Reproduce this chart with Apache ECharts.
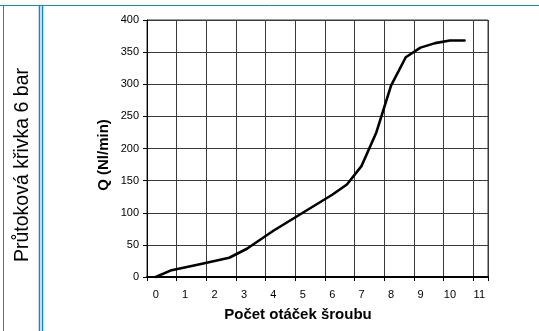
<!DOCTYPE html>
<html>
<head>
<meta charset="utf-8">
<script src="https://cdn.jsdelivr.net/npm/echarts@6/dist/echarts.min.js"></script>
<style>
  html, body { margin: 0; padding: 0; background: #fff; }
  #chart { width: 539px; height: 331px; }
</style>
</head>
<body>
<div id="chart"></div>
<script>
// Screw turns vs. flow rate at 6 bar
const turns = [0, 0.5, 1.5, 2.5, 3.1, 4, 5, 6, 6.5, 7, 7.5, 8, 8.5, 9, 9.5, 10, 10.5];
const flow  = [0, 10, 20, 30, 44, 72, 100, 128, 144, 173, 225, 298, 342, 357, 364, 368, 368];
const xTickLabels = [0, 1, 2, 3, 4, 5, 6, 7, 8, 9, 10, 11];

const sideTitle = 'Průtoková křivka 6 bar';
const yName = 'Q (Nl/min)';
const xName = 'Počet otáček šroubu';

const FONT = '"Liberation Sans", Arial, Helvetica, sans-serif';
const BLUE = '#1185cf';
const GRID = '#3a3a3a';

const chart = echarts.init(document.getElementById('chart'), null, { renderer: 'canvas' });

chart.setOption({
  animation: false,
  backgroundColor: '#fff',
  grid: [
    // frame with the ruled grid
    { left: 147, right: 51, top: 20, bottom: 54, show: true, borderColor: GRID, borderWidth: 1, backgroundColor: 'transparent' },
    // plotting area of the curve
    { left: 155.7, right: 59.7, top: 20, bottom: 54, show: false }
  ],
  xAxis: [
    {
      type: 'value', gridIndex: 0, min: 0, max: 11.5, interval: 1,
      axisLine: { show: true, lineStyle: { color: '#000', width: 2 } },
      axisTick: { show: true, length: 4, lineStyle: { color: '#000' } },
      axisLabel: { show: false },
      splitLine: { show: true, lineStyle: { color: GRID, width: 1 } }
    },
    {
      type: 'value', gridIndex: 1, min: 0, max: 11, interval: 1,
      axisLine: { show: false },
      axisTick: { show: false },
      splitLine: { show: false },
      axisLabel: {
        show: true, margin: 12, color: '#000', fontSize: 11, fontFamily: FONT,
        formatter: v => (xTickLabels.indexOf(v) >= 0 ? String(v) : '')
      }
    }
  ],
  yAxis: [
    {
      type: 'value', gridIndex: 0, min: 0, max: 400, interval: 50,
      axisLine: { show: true, lineStyle: { color: '#000', width: 1 } },
      axisTick: { show: true, length: 4, lineStyle: { color: '#000' } },
      axisLabel: { show: true, margin: 8, color: '#000', fontSize: 11, fontFamily: FONT },
      splitLine: { show: true, lineStyle: { color: GRID, width: 1 } }
    },
    {
      type: 'value', gridIndex: 1, min: 0, max: 400, interval: 50,
      axisLine: { show: false }, axisTick: { show: false },
      axisLabel: { show: false }, splitLine: { show: false }
    }
  ],
  series: [{
    type: 'line',
    xAxisIndex: 1, yAxisIndex: 1,
    data: turns.map((t, i) => [t, flow[i]]),
    showSymbol: false,
    symbol: 'none',
    lineStyle: { color: '#000', width: 2.6, join: 'round', cap: 'round' },
    clip: false
  }],
  graphic: [
    // page frame lines
    { type: 'line', shape: { x1: 0, y1: 5.5, x2: 539, y2: 5.5 }, style: { stroke: BLUE, lineWidth: 1 } },
    { type: 'line', shape: { x1: 3.5, y1: 5, x2: 3.5, y2: 331 }, style: { stroke: BLUE, lineWidth: 1 } },
    { type: 'line', shape: { x1: 39.5, y1: 6, x2: 39.5, y2: 331 }, style: { stroke: BLUE, lineWidth: 1.5 } },
    { type: 'line', shape: { x1: 42.5, y1: 6, x2: 42.5, y2: 331 }, style: { stroke: BLUE, lineWidth: 1.5 } },
    // rotated side caption
    {
      type: 'text', x: 22.5, y: 165, rotation: Math.PI / 2,
      style: { text: sideTitle, fill: '#000', font: '19.5px ' + FONT, align: 'center', verticalAlign: 'middle' }
    },
    // axis titles
    {
      type: 'text', x: 103.5, y: 155, rotation: Math.PI / 2,
      style: { text: yName, fill: '#000', font: 'bold 15px ' + FONT, align: 'center', verticalAlign: 'middle' }
    },
    {
      type: 'text', x: 298, y: 315,
      style: { text: xName, fill: '#000', font: 'bold 15px ' + FONT, align: 'center', verticalAlign: 'middle' }
    }
  ]
});
</script>
</body>
</html>
